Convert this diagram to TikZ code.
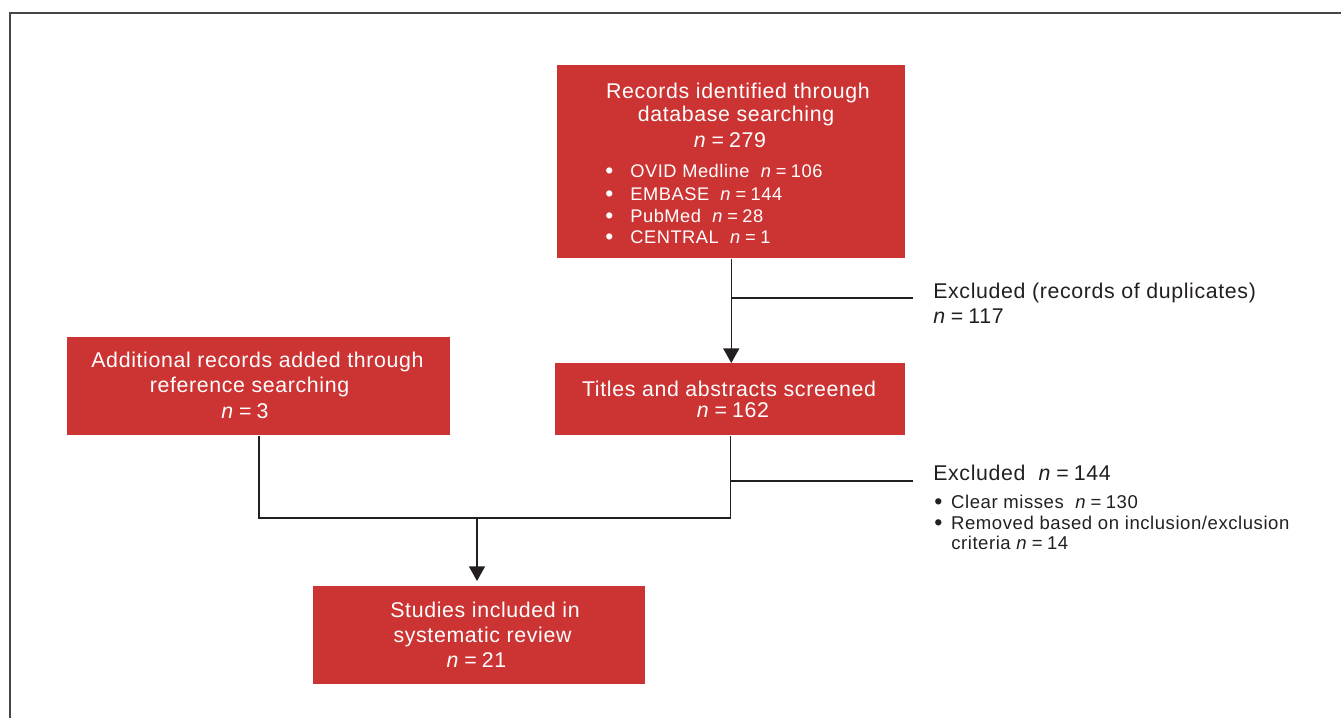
\documentclass[tikz,border=0pt]{standalone}
\usepackage{fontspec}
\setmainfont{Liberation Sans}
\newfontfamily\hfont[LetterSpace=3]{Liberation Sans}
\usetikzlibrary{arrows.meta}
\definecolor{boxred}{RGB}{204,51,51}
\definecolor{linec}{RGB}{35,31,32}
\definecolor{framec}{RGB}{70,70,70}
\definecolor{txt}{RGB}{35,31,32}
\newcommand{\nval}[1]{\textit{n}\hspace{0.24em}=\hspace{0.24em}#1}
\newcommand{\bul}[1]{\makebox[#1][l]{\raisebox{-0.1em}{\scalebox{1.25}{•}}}}
\begin{document}
\begin{tikzpicture}[x=0.75pt,y=-0.75pt,
  redbox/.style={fill=boxred, draw=none, inner sep=0pt, anchor=north west},
  wl/.style={anchor=base, inner sep=0pt, text=white, font=\hfont\fontsize{16}{19}\selectfont},
  ws/.style={anchor=base west, inner sep=0pt, text=white, font=\hfont\fontsize{13.7}{16}\selectfont},
  dl/.style={anchor=base west, inner sep=0pt, text=txt, font=\hfont\fontsize{16}{19}\selectfont},
  ds/.style={anchor=base west, inner sep=0pt, text=txt, font=\hfont\fontsize{13.9}{16}\selectfont},
  conn/.style={draw=linec, line width=1.1pt},
  arr/.style={conn, -{Triangle[width=12pt,length=11pt]}},
]
\useasboundingbox (0,0) rectangle (1341,718);
\draw[framec, line width=1.3pt] (10,718) -- (10,13) -- (1341,13);

% boxes
\node[redbox, minimum width=0.75*348, minimum height=0.75*193] (rec) at (557,65) {};
\node[redbox, minimum width=0.75*383, minimum height=0.75*98] (add) at (67,337) {};
\node[redbox, minimum width=0.75*350, minimum height=0.75*72] (scr) at (555,363) {};
\node[redbox, minimum width=0.75*332, minimum height=0.75*98] (inc) at (313,586) {};

% box texts
\node[wl] (a1) at (738,98) {Records identified through};
\node[wl] (a2) at (736,121) {database searching};
\node[wl] (a3) at (730,147) {\nval{279}};
\node[ws] (a4) at (605,177) {\bul{18.8pt}OVID Medline\ \ \nval{106}};
\node[ws] (a5) at (605,200) {\bul{18.8pt}EMBASE\ \ \nval{144}};
\node[ws] (a6) at (605,222) {\bul{18.8pt}PubMed\ \ \nval{28}};
\node[ws] (a7) at (605,243) {\bul{18.8pt}CENTRAL\ \ \nval{1}};

\node[wl] (b1) at (257.5,367) {Additional records added through};
\node[wl] (b2) at (249.5,392) {reference searching};
\node[wl] (b3) at (245,418) {\nval{3}};

\node[wl] (c1) at (729,396) {Titles and abstracts screened};
\node[wl] (c2) at (733,417) {\nval{162}};

\node[wl] (d1) at (485,617) {Studies included in};
\node[wl] (d2) at (482.5,642) {systematic review};
\node[wl] (d3) at (476.5,667) {\nval{21}};

% excluded texts
\node[dl] (e1) at (933,298) {Excluded (records of duplicates)};
\node[dl] (e2) at (933,323) {\nval{117}};
\node[dl] (f1) at (933,480) {Excluded\ \ \nval{144}};
\node[ds] (f2) at (934,508) {\bul{12.7pt}Clear misses\ \ \nval{130}};
\node[ds] (f3) at (934,529) {\bul{12.7pt}Removed based on inclusion/exclusion};
\node[ds] (f4) at (951,549) {criteria \nval{14}};

% connectors
\coordinate (ex1) at (913,298);
\coordinate (ex2) at (913,481);
\coordinate (jn) at (477,518);
\draw[arr] (rec.south) -- (rec.south |- scr.north);
\draw[conn] (rec.south |- ex1) -- (ex1);
\draw[conn] (add.south) |- (jn) -| (scr.south);
\draw[conn] (scr.south |- ex2) -- (ex2);
\draw[arr, shorten >=3.75pt] (jn) -- (jn |- inc.north);
\end{tikzpicture}
\end{document}
